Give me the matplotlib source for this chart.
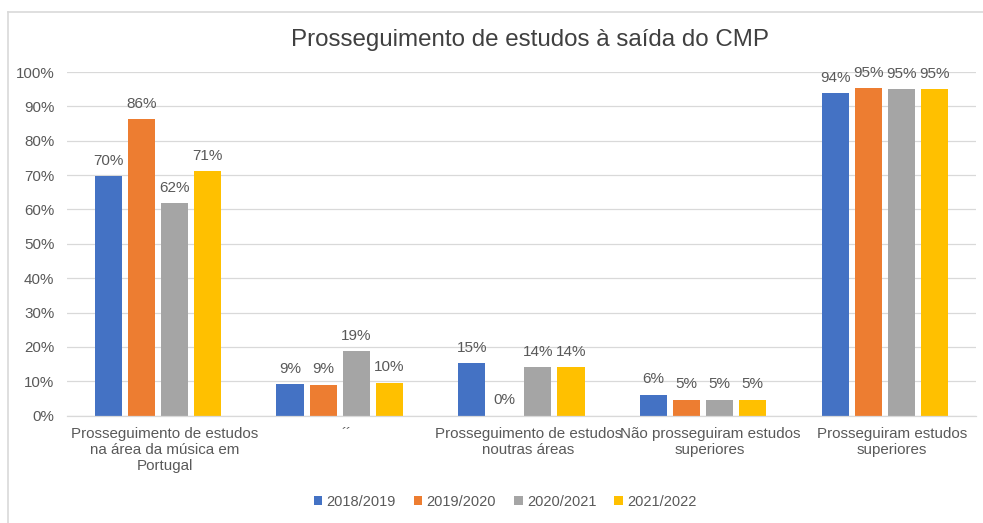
import matplotlib
matplotlib.use("Agg")
import matplotlib.pyplot as plt
from matplotlib.lines import Line2D
import matplotlib.transforms as mtransforms
import numpy as np

plt.rcParams["font.family"] = ["Liberation Sans", "DejaVu Sans"]

categories = [
    "Prosseguimento de estudos\nna área da música em\nPortugal",
    "´´",
    "Prosseguimento de estudos\nnoutras áreas",
    "Não prosseguiram estudos\nsuperiores",
    "Prosseguiram estudos\nsuperiores",
]
years = ["2018/2019", "2019/2020", "2020/2021", "2021/2022"]
y1819 = [0.697, 0.091, 0.152, 0.061, 0.939]
y1920 = [0.862, 0.090, 0.000, 0.047, 0.953]
y2021 = [0.618, 0.188, 0.142, 0.047, 0.950]
y2122 = [0.711, 0.096, 0.141, 0.047, 0.950]
series = [y1819, y1920, y2021, y2122]
colors = ["#4472C4", "#ED7D31", "#A5A5A5", "#FFC000"]

TXT = "#595959"
GRID = "#D9D9D9"

fig = plt.figure(figsize=(9.83, 5.23), dpi=100)
ax = fig.add_axes([67 / 983, 1 - 415.7 / 523, (975.7 - 67) / 983, (415.7 - 72) / 523])

x = np.arange(len(categories))
width = 0.149
step = 0.182
for i, (vals, col, lab) in enumerate(zip(series, colors, years)):
    bars = ax.bar(x + (i - 1.5) * step, vals, width, color=col, label=lab, zorder=2)
    ax.bar_label(bars, labels=[f"{v:.0%}" for v in vals], padding=6,
                 fontsize=11, color=TXT)

ax.set_xlim(-0.5, len(categories) - 0.5)
ax.set_ylim(0, 1)
ax.set_yticks(np.arange(0, 1.01, 0.1))
ax.set_yticklabels([f"{int(round(t * 100))}%" for t in np.arange(0, 1.01, 0.1)])
ax.set_xticks(x)
ax.set_xticklabels(categories, linespacing=1.2)
ax.tick_params(axis="both", length=0, labelsize=10.9, labelcolor=TXT)
ax.tick_params(axis="y", pad=9)
ax.tick_params(axis="x", pad=8)
# category labels sit a little right of the bar groups
shift = mtransforms.ScaledTranslation(5 / 72, 0, fig.dpi_scale_trans)
for lbl in ax.get_xticklabels():
    lbl.set_transform(lbl.get_transform() + shift)
ax.yaxis.grid(True, color=GRID, lw=0.9, zorder=0)
for s in ("left", "right", "top"):
    ax.spines[s].set_visible(False)
ax.spines["bottom"].set_color(GRID)
ax.spines["bottom"].set_linewidth(0.9)

fig.text(530 / 983, 1 - 40 / 523, "Prosseguimento de estudos à saída do CMP",
         ha="center", va="center", fontsize=17.4, color="#404040")

fig.legend(loc="center", bbox_to_anchor=(505 / 983, 1 - 502 / 523), ncol=4,
           frameon=False, fontsize=10.5, labelcolor=TXT, handlelength=0.6,
           handleheight=0.6, handletextpad=0.3, columnspacing=1.2)

# chart frame edges
fig.add_artist(Line2D([8 / 983, 8 / 983], [0, 1 - 12 / 523], color=GRID, lw=1.2))
fig.add_artist(Line2D([8 / 983, 1], [1 - 12 / 523, 1 - 12 / 523], color=GRID, lw=1.2))

fig.savefig("out.png", dpi=100)
